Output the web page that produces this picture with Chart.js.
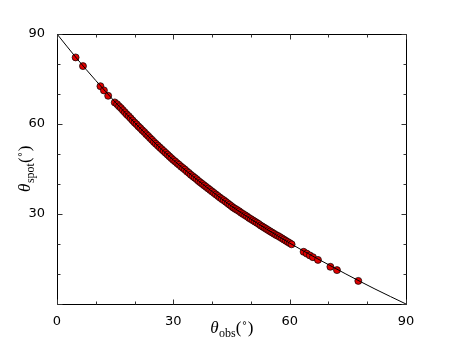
<!DOCTYPE html>
<html>
<head>
<meta charset="utf-8">
<script src="https://cdn.jsdelivr.net/npm/chart.js@4"></script>
<style>
  html, body { margin: 0; padding: 0; background: #fff; }
  #wrap { width: 452px; height: 339px; }
</style>
</head>
<body>
<div id="wrap"><canvas id="spotChart" width="452" height="339"></canvas></div>
<script>
// curve theta_spot vs theta_obs
const lineObs  = [0, 5, 10, 15, 20, 25, 30, 35, 40, 45, 50, 54, 60, 67.3, 74.5, 82, 90];
const lineSpot = [90, 82, 74.5, 67.3, 60.5, 54, 48, 42.6, 37.5, 32.6, 28.3, 25, 20.3, 15, 10, 5, 0];

// measured spots (red markers)
const ptObs = [4.8, 6.7, 11.2, 12.1, 13.2, 14.9,
  15.5, 16, 16.5, 17, 17.5, 18, 18.5, 19, 19.5, 20, 20.5, 21, 21.5, 22, 22.5, 23, 23.5, 24, 24.5, 25,
  25.5, 26, 26.5, 27, 27.5, 28, 28.5, 29, 29.5, 30, 30.5, 31, 31.5, 32, 32.5, 33, 33.5, 34, 34.5, 35,
  35.5, 36, 36.5, 37, 37.5, 38, 38.5, 39, 39.5, 40, 40.5, 41, 41.5, 42, 42.5, 43, 43.5, 44, 44.5, 45,
  45.5, 46, 46.5, 47, 47.5, 48, 48.5, 49, 49.5, 50, 50.5, 51, 51.5, 52, 52.5, 53, 53.5, 54, 54.5, 55,
  55.5, 56, 56.5, 57, 57.5, 58, 58.5, 59, 59.5, 60, 60.5,
  63.6, 64.4, 65.2, 66, 67.3, 70.5, 72.2, 77.7];
const ptSpot = [82.2, 79.3, 72.6, 71.2, 69.4, 67.2,
  66.6, 65.9, 65.3, 64.6, 63.9, 63.2, 62.6, 61.9, 61.2, 60.5, 59.9, 59.2, 58.6, 57.9, 57.3, 56.6, 56.0, 55.3, 54.7, 54.0,
  53.4, 52.8, 52.2, 51.6, 51.0, 50.4, 49.8, 49.2, 48.6, 48.0, 47.5, 46.9, 46.4, 45.8, 45.3, 44.8, 44.2, 43.7, 43.1, 42.6,
  42.1, 41.6, 41.0, 40.5, 40.0, 39.5, 39.0, 38.5, 38.0, 37.5, 37.0, 36.5, 36.0, 35.5, 35.0, 34.6, 34.1, 33.6, 33.1, 32.6,
  32.1, 31.7, 31.3, 30.9, 30.4, 30.0, 29.6, 29.2, 28.7, 28.3, 27.9, 27.5, 27.1, 26.7, 26.2, 25.8, 25.4, 25.0, 24.6, 24.2,
  23.8, 23.4, 23.0, 22.7, 22.3, 21.9, 21.5, 21.1, 20.7, 20.3, 19.9,
  17.4, 16.8, 16.2, 15.6, 14.7, 12.4, 11.3, 7.7];

const xTickVals = [0, 30, 60, 90];
const yTickVals = [30, 60, 90];
const majorTicks = [0, 30, 60, 90];
const minorTicks = [10, 20, 40, 50, 70, 80];

const xTitleSub = 'obs';
const yTitleSub = 'spot';

// theta_sub(°) written like matplotlib mathtext
function drawMathLabel(ctx, cx, cy, sub, rotate) {
  const parts = [
    { t: 'θ', f: 'italic 17px "Liberation Serif"', dy: 0 },
    { t: sub, f: '12px "Liberation Serif"', dy: 4 },
    { t: '(', f: '17px "Liberation Serif"', dy: 0 },
    { t: '∘', f: '10px "DejaVu Sans"', dy: -7 },
    { t: ')', f: '17px "Liberation Serif"', dy: 0 }
  ];
  ctx.save();
  ctx.translate(cx, cy);
  if (rotate) ctx.rotate(-Math.PI / 2);
  let total = 0;
  parts.forEach(p => { ctx.font = p.f; p.w = ctx.measureText(p.t).width; total += p.w; });
  let x = -total / 2;
  ctx.fillStyle = '#000';
  ctx.textBaseline = 'alphabetic';
  ctx.textAlign = 'left';
  parts.forEach(p => {
    ctx.font = p.f;
    ctx.fillText(p.t, x, 5 + p.dy);
    x += p.w + (p.t === 'θ' ? 0.5 : 0);
  });
  ctx.restore();
}

const framePlugin = {
  id: 'frame',
  afterDraw(chart) {
    const ctx = chart.ctx;
    const a = chart.chartArea;
    const xs = chart.scales.x, ys = chart.scales.y;
    ctx.save();
    ctx.strokeStyle = '#000';
    ctx.lineWidth = 1;
    ctx.beginPath();
    const l = Math.round(a.left) + 0.5, r = Math.round(a.right) + 0.5;
    const t = Math.round(a.top) + 0.5, b = Math.round(a.bottom) + 0.5;
    ctx.rect(l, t, r - l, b - t);
    ctx.stroke();

    const tick = (vals, len) => {
      vals.forEach(v => {
        const px = Math.round(xs.getPixelForValue(v)) + 0.5;
        ctx.moveTo(px, b); ctx.lineTo(px, b - len);
        ctx.moveTo(px, t); ctx.lineTo(px, t + len);
        const py = Math.round(ys.getPixelForValue(v)) + 0.5;
        ctx.moveTo(l, py); ctx.lineTo(l + len, py);
        ctx.moveTo(r, py); ctx.lineTo(r - len, py);
      });
    };
    ctx.beginPath();
    tick(majorTicks, 5);
    tick(minorTicks, 3);
    ctx.strokeStyle = '#333';
    ctx.stroke();
    ctx.restore();

    drawMathLabel(ctx, (a.left + a.right) / 2, 328, xTitleSub, false);
    drawMathLabel(ctx, 25, (a.top + a.bottom) / 2, yTitleSub, true);
  }
};

const lineData = lineObs.map((x, i) => ({ x: x, y: lineSpot[i] }));
const pointData = ptObs.map((x, i) => ({ x: x, y: ptSpot[i] }));

new Chart(document.getElementById('spotChart').getContext('2d'), {
  type: 'scatter',
  data: {
    datasets: [
      {
        data: lineData,
        showLine: true,
        borderColor: '#000',
        borderWidth: 1,
        pointRadius: 0,
        cubicInterpolationMode: 'monotone',
        order: 0
      },
      {
        data: pointData,
        pointRadius: 3.5,
        pointBackgroundColor: '#e00000',
        pointBorderColor: '#000',
        pointBorderWidth: 0.7,
        order: 1
      }
    ]
  },
  options: {
    responsive: false,
    animation: false,
    devicePixelRatio: 1,
    layout: { padding: { left: 0, right: 46, top: 34, bottom: 0 } },
    plugins: { legend: { display: false }, tooltip: { enabled: false } },
    scales: {
      x: {
        type: 'linear', min: 0, max: 90,
        afterBuildTicks: s => { s.ticks = xTickVals.map(v => ({ value: v })); },
        afterFit: s => { s.height = 35; },
        grid: { display: false },
        border: { display: false },
        ticks: { color: '#000', font: { family: 'DejaVu Sans', size: 13 }, padding: 2, maxRotation: 0 }
      },
      y: {
        type: 'linear', min: 0, max: 90,
        afterBuildTicks: s => { s.ticks = yTickVals.map(v => ({ value: v })); },
        afterFit: s => { s.width = 57; },
        grid: { display: false },
        border: { display: false },
        ticks: { color: '#000', font: { family: 'DejaVu Sans', size: 13 }, padding: 4 }
      }
    }
  },
  plugins: [framePlugin]
});
</script>
</body>
</html>
